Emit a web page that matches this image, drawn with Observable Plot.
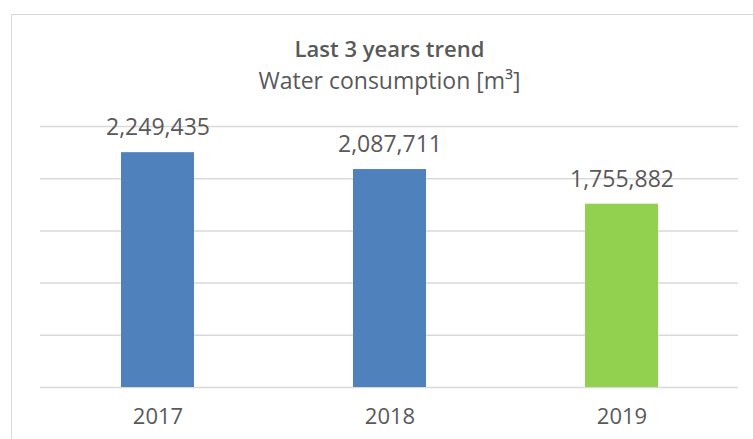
<!DOCTYPE html>
<html>
<head>
<meta charset="utf-8">
<script src="https://cdn.jsdelivr.net/npm/d3@7"></script>
<script src="https://cdn.jsdelivr.net/npm/@observablehq/plot@0.6"></script>
<style>
  html, body { margin: 0; padding: 0; background: #fff; overflow: hidden; }
  #wrap { position: relative; width: 753px; height: 439px; }
  #frame { position: absolute; left: 11px; top: 14px; width: 800px; height: 500px; border: 1.5px solid #d9d9d9; box-sizing: border-box; }
  #chart { position: absolute; left: 0; top: 0; }
</style>
</head>
<body>
<div id="wrap">
  <div id="frame"></div>
  <div id="chart"></div>
</div>
<script>
const years = ["2017", "2018", "2019"];
const consumption = [2249435, 2087711, 1755882];
const barColors = ["#4f81bd", "#4f81bd", "#92d050"];
const titleText = "Last 3 years trend";
const subtitleText = "Water consumption [m³]";
const yTicks = [0, 500000, 1000000, 1500000, 2000000, 2500000];

const data = years.map((y, i) => ({year: y, value: consumption[i], color: barColors[i]}));
const fmt = d3.format(",");
const textColor = "#595959";
const font = "'Open Sans', sans-serif";

const chart = Plot.plot({
  width: 753,
  height: 439,
  marginLeft: 40,
  marginRight: 15,
  marginTop: 126,
  marginBottom: 52,
  style: {fontFamily: font, color: textColor, background: "transparent"},
  x: {domain: years, paddingInner: 0.686, paddingOuter: 0.343, label: null},
  y: {domain: [0, 2500000], label: null, axis: null},
  marks: [
    Plot.ruleY(yTicks, {stroke: "#d9d9d9", strokeWidth: 1.5}),
    Plot.barY(data, {x: "year", y: "value", fill: "color"}),
    Plot.text(data, {x: "year", y: "value", text: d => fmt(d.value), dy: -25, fontSize: 23, fill: textColor}),
    Plot.axisX({tickSize: 0, tickPadding: 21, fontSize: 22, fill: textColor}),
    Plot.text([titleText], {frameAnchor: "top", dy: -85, fontSize: 22, fontWeight: 600, fill: textColor}),
    Plot.text([subtitleText], {frameAnchor: "top", dy: -54, fontSize: 23, fill: textColor})
  ]
});
chart.style.overflow = "visible";
document.getElementById("chart").appendChild(chart);
</script>
</body>
</html>
